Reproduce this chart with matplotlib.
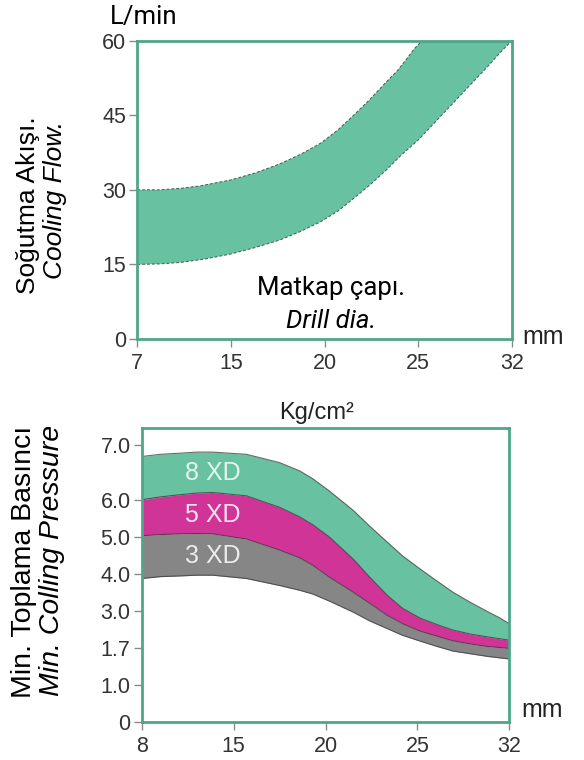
import numpy as np
import matplotlib
matplotlib.use("Agg")
import matplotlib.pyplot as plt

# --- cooling flow chart (top) ---
flow_xticks = [7, 15, 20, 25, 32]
flow_yticks = [0, 15, 30, 45, 60]
flow_hi_x = [7, 8.9, 10.7, 12.4, 15, 16.3, 17.6, 18.7, 19.8, 20.7, 21.5, 22.4,
             23.3, 23.9, 24.4, 24.8, 25.3]
flow_hi_y = [30, 30.0, 30.3, 30.8, 32, 33.4, 35.2, 37.1, 39.4, 42.0, 44.8, 48.1,
             51.7, 54.0, 56.4, 58.4, 60]
flow_lo_x = [7, 8.9, 10.7, 12.8, 15, 16.3, 17.6, 18.7, 19.8, 20.7, 21.5, 22.4,
             23.3, 24.1, 25.0, 26.3, 27.6, 28.9, 30.2, 31.1, 32]
flow_lo_y = [15, 15.1, 15.4, 16.1, 17.1, 18.4, 19.9, 21.6, 23.6, 25.7, 28.1, 30.9,
             34.0, 37.0, 40.0, 43.7, 47.4, 51.1, 54.8, 57.5, 60]

# --- min. cooling pressure chart (bottom) ---
press_xticks = [8, 15, 20, 25, 32]
press_yticks = [0, 1.0, 1.7, 3.0, 4.0, 5.0, 6.0, 7.0]
press_ylabels = ["0", "1.0", "1.7", "3.0", "4.0", "5.0", "6.0", "7.0"]
press_x = [8, 9.4, 10.9, 12.2, 13.4, 15.7, 17.5, 18.6, 19.3, 20.2, 21.5, 22.4,
           23.35, 24.2, 25.2, 26.5, 27.7, 29.0, 30.3, 31.3, 32]
p8_top = [6.79, 6.83, 6.85, 6.87, 6.87, 6.83, 6.68, 6.53, 6.39, 6.17, 5.73, 5.30,
          4.87, 4.49, 4.14, 3.81, 3.51, 3.24, 2.99, 2.75, 2.55]
p5_top = [6.01, 6.06, 6.1, 6.13, 6.14, 6.08, 5.81, 5.55, 5.34, 5.01, 4.41, 3.92,
          3.43, 3.07, 2.75, 2.52, 2.33, 2.19, 2.09, 2.02, 1.97]
p3_top = [5.04, 5.07, 5.09, 5.1, 5.09, 4.95, 4.65, 4.44, 4.24, 3.92, 3.51, 3.21,
          2.85, 2.55, 2.29, 2.11, 1.95, 1.84, 1.75, 1.71, 1.69]
p3_bot = [3.88, 3.93, 3.95, 3.97, 3.97, 3.88, 3.69, 3.56, 3.46, 3.27, 2.96, 2.65,
          2.38, 2.14, 1.94, 1.75, 1.64, 1.59, 1.54, 1.51, 1.49]
bands = ["8 XD", "5 XD", "3 XD"]

TEAL = "#68c2a2"
MAGENTA = "#cf3496"
GRAY = "#868686"
FRAME = "#4ea68a"
TICK = "#333333"

W, H = 584, 760


def px(x, y):
    return x / W, 1 - y / H


def even_scale(ax, ticks, axis="x"):
    # tick values sit at equal distances in the original chart
    pos = list(range(len(ticks)))
    fwd = lambda v: np.interp(v, ticks, pos)
    inv = lambda p: np.interp(p, pos, ticks)
    if axis == "x":
        ax.set_xscale("function", functions=(fwd, inv))
    else:
        ax.set_yscale("function", functions=(fwd, inv))


def style(ax):
    for s in ax.spines.values():
        s.set_color(FRAME)
        s.set_linewidth(2)
    ax.tick_params(direction="out", length=6, width=1, color="#8a8a8a",
                   labelcolor=TICK, labelsize=15.5, pad=2)
    ax.tick_params(axis="x", pad=4)
    for lab in ax.get_xticklabels() + ax.get_yticklabels():
        lab.set_family("Liberation Sans")


fig = plt.figure(figsize=(W / 100, H / 100), dpi=100)

# top chart
ax1 = fig.add_axes([137.3 / W, 1 - 339 / H, (511.7 - 137.3) / W, (339 - 40.7) / H])
even_scale(ax1, flow_xticks, "x")
poly_x = flow_hi_x + flow_lo_x[::-1]
poly_y = flow_hi_y + flow_lo_y[::-1]
ax1.fill(poly_x, poly_y, color=TEAL, lw=0)
ax1.plot(flow_hi_x, flow_hi_y, color="#3d5a50", lw=0.7, ls=(0, (3, 2)))
ax1.plot(flow_lo_x, flow_lo_y, color="#3d5a50", lw=0.7, ls=(0, (3, 2)))
ax1.set_xlim(7, 32)
ax1.set_ylim(0, 60)
ax1.set_xticks(flow_xticks)
ax1.set_xticklabels([str(v) for v in flow_xticks])
ax1.set_yticks(flow_yticks)
ax1.set_yticklabels([str(v) for v in flow_yticks])
ax1.minorticks_off()
style(ax1)

# bottom chart
ax2 = fig.add_axes([141.7 / W, 1 - 721.7 / H, (509.3 - 141.7) / W, (721.7 - 428.3) / H])
even_scale(ax2, press_xticks, "x")
p_vals = [-1, 0, 1, 1.7, 3, 4, 5, 6, 7, 8]
p_pos = [-1, 0, 1, 2, 3, 4, 5, 6, 7.5, 9]
ax2.set_yscale("function", functions=(lambda v: np.interp(v, p_vals, p_pos),
                                      lambda p: np.interp(p, p_pos, p_vals)))
ax2.fill_between(press_x, p5_top, p8_top, color=TEAL, lw=0)
ax2.fill_between(press_x, p3_top, p5_top, color=MAGENTA, lw=0)
ax2.fill_between(press_x, p3_bot, p3_top, color=GRAY, lw=0)
for curve in [p8_top, p5_top, p3_top, p3_bot]:
    ax2.plot(press_x, curve, color="#3a3a3a", lw=0.8, alpha=0.75)
label_y = [6.5, 5.6, 4.5]
label_c = ["#e2f6ee", "#fbe2f3", "#ececec"]
for name, yv, c in zip(bands, label_y, label_c):
    ax2.text(13.4, yv, name, color=c, fontsize=18, family="Liberation Sans",
             ha="center", va="center")
ax2.set_xlim(8, 32)
ax2.set_ylim(0, 7.3)
ax2.set_xticks(press_xticks)
ax2.set_xticklabels([str(v) for v in press_xticks])
ax2.set_yticks(press_yticks)
ax2.set_yticklabels(press_ylabels)
ax2.minorticks_off()
style(ax2)

# texts
fig.text(*px(110, 17), "L/min", family="Roboto", fontsize=18.5, ha="left", va="center")
fig.text(*px(28, 205), "Soğutma Akışı.", family="Liberation Sans", fontsize=19,
         rotation=90, ha="center", va="center")
fig.text(*px(55, 200), "Cooling Flow.", family="Liberation Sans", style="italic",
         fontsize=19, rotation=90, ha="center", va="center")
fig.text(*px(331, 288), "Matkap çapı.", family="Roboto", fontsize=18.5,
         ha="center", va="center")
fig.text(*px(331, 321), "Drill dia.", family="Roboto", style="italic", fontsize=18.5,
         ha="center", va="center")
fig.text(*px(543, 337), "mm", family="Liberation Sans", fontsize=18, color="#222",
         ha="center", va="center")
fig.text(*px(317, 413), "Kg/cm²", family="Liberation Sans", fontsize=17, color="#222",
         ha="center", va="center")
fig.text(*px(24, 562), "Min. Toplama Basıncı", family="Liberation Sans", fontsize=20.5,
         rotation=90, ha="center", va="center")
fig.text(*px(52, 560), "Min. Colling Pressure", family="Liberation Sans", style="italic",
         fontsize=20.5, rotation=90, ha="center", va="center")
fig.text(*px(542, 710), "mm", family="Liberation Sans", fontsize=18, color="#222",
         ha="center", va="center")

fig.savefig("out.png", dpi=100)
